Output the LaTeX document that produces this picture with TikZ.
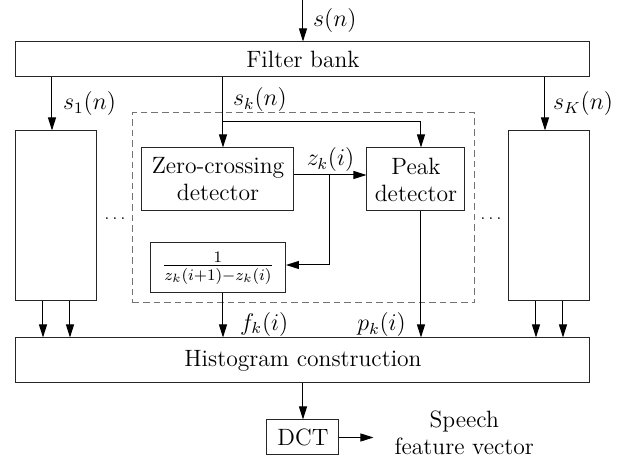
\documentclass[tikz,border=0pt]{standalone}
\usepackage{amsmath}
\usetikzlibrary{arrows.meta,positioning,fit,calc}
\tikzset{
	blockbox/.style={rectangle, draw=black!85, line width=0.5pt, inner sep=0pt, align=center},
	chanbox/.style={blockbox, minimum width=40.5pt, minimum height=85pt},
	sigarr/.style={-{Triangle[length=6.5pt,width=4pt]}, line width=0.5pt},
	sigline/.style={line width=0.5pt},
	groupbox/.style={draw=black!55, dash pattern=on 3.3pt off 2pt, line width=0.5pt}
}
\newcommand{\moredots}{{\footnotesize.\kern1.6pt.\kern1.6pt.}}

\begin{document}
\begin{tikzpicture}[x=1pt, y=1pt, font=\fontsize{11.8}{13.5}\selectfont]
	\useasboundingbox (0,0) rectangle (314.5,-230);
	\node[blockbox, minimum width=287pt, minimum height=17.5pt] (bank) at (151.5,-29.75) {Filter bank};
	\coordinate[above=21pt of bank] (src);
	\node[chanbox, below right=26.5pt and 0pt of bank.south west] (chan1) {};
	\node[chanbox, below left=26.5pt and 0pt of bank.south east] (chanK) {};
	\node[blockbox, minimum width=76pt, minimum height=31.5pt] (zero) at (109,-89.75) {Zero-crossing\\detector};
	\node[blockbox, minimum width=49pt, minimum height=31.5pt, right=36pt of zero] (peak) {Peak\\detector};
	\node[blockbox, minimum width=67.5pt, minimum height=25pt, below=15.5pt of zero] (frac) {$\frac{1}{z_k(i+1)-z_k(i)}$};
	\coordinate (branch) at (111.5,-61);
	\coordinate (zsplit) at (165,-87.5);
	\node[groupbox, fit=(zero)(peak)(frac)(branch), inner sep=4.5pt] (chank) {};
	\node[blockbox, minimum width=287pt, minimum height=22.5pt, below right=18pt and 0pt of chan1.south west] (hist) {Histogram construction};
	\node[blockbox, minimum width=36pt, minimum height=17.5pt, below=18pt of hist] (dct) {DCT};
	\node[right=24pt of dct, yshift=2.5pt, align=center] (feat) {Speech\\feature vector};
	\node (dots1) at (57.5,-109.5) {\moredots};
	\node (dots2) at (245.5,-109.5) {\moredots};

	\draw[sigarr] (src) -- node[right=1.5pt]{$s(n)$} (bank);
	\draw[sigarr] ([xshift=-2.25pt]chan1.north |- bank.south) -- node[right=2pt]{$s_1(n)$} ([xshift=-2.25pt]chan1.north);
	\draw[sigarr] ([xshift=-2.25pt]chanK.north |- bank.south) -- node[right=0.5pt]{$s_K(n)$} ([xshift=-2.25pt]chanK.north);
	\draw[sigline] (bank.south -| branch) -- node[right=1.5pt]{$s_k(n)$} (branch);
	\draw[sigarr] (branch) -- (branch |- zero.north);
	\draw[sigarr] (branch) -| ([xshift=2.5pt]peak.north);
	\draw[sigarr] ([yshift=2.25pt]zero.east) -- node[above=-2pt]{$z_k(i)$} ([yshift=2.25pt]peak.west);
	\draw[sigarr] (zsplit) |- ([yshift=1.5pt]frac.east);
	\draw[sigarr] (frac.south -| branch) -- node[pos=0.7, right=5pt]{$f_k(i)$} (hist.north -| branch);
	\draw[sigarr] ([xshift=2.5pt]peak.south) -- node[pos=0.9, left=4pt]{$p_k(i)$} ([xshift=2.5pt]peak.south |- hist.north);
	\foreach \dx in {-6.75,6.75} {
		\draw[sigarr] ([xshift=\dx pt]chan1.south) -- ([xshift=\dx pt]chan1.south |- hist.north);
		\draw[sigarr] ([xshift=\dx pt]chanK.south) -- ([xshift=\dx pt]chanK.south |- hist.north);
	}
	\draw[sigarr] (hist) -- (dct);
	\draw[sigarr] (dct.east) -- ([xshift=-7pt]dct.east -| feat.west);
\end{tikzpicture}
\end{document}
